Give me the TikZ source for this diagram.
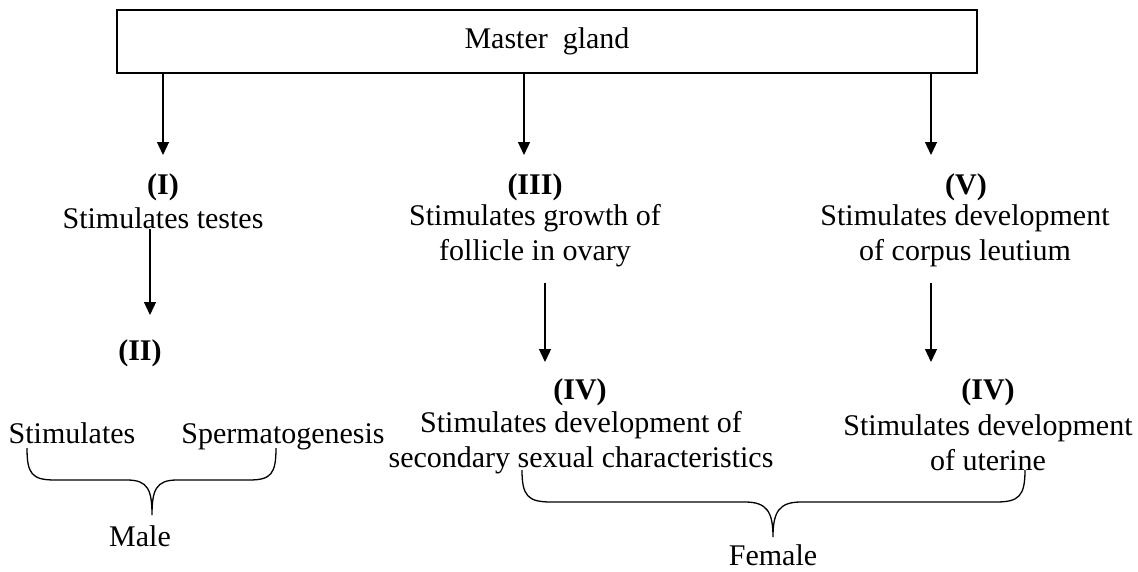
\documentclass[tikz,border=0pt]{standalone}
\usepackage{fontspec}
\setmainfont{Liberation Serif}
\usetikzlibrary{positioning}
\usetikzlibrary{arrows.meta}

\tikzset{
  txt/.style={inner sep=0pt, align=center, font=\fontsize{30}{35}\selectfont},
  arr/.style={-{Triangle[width=12pt,length=13pt]}, line width=1.3pt},
  brace/.style={line width=1.3pt},
}

\begin{document}
\begin{tikzpicture}[x=1pt,y=-1pt]
\useasboundingbox (0,0) rectangle (1138,571);

\node[draw, line width=1.3pt, minimum width=860pt, minimum height=63pt, txt] (gland) at (547,41.5) {Master\ \ gland};

\node[txt] (l1) at (163,187) {\textbf{(I)}};
\node[txt] (t1) at (163,218) {Stimulates testes};
\node[txt] (l3) at (535,187) {\textbf{(III)}};
\node[txt] (t3) at (535,235.5) {Stimulates growth of\\follicle in ovary};
\node[txt] (l5) at (966,187) {\textbf{(V)}};
\node[txt] (t5) at (965,235.5) {Stimulates development\\of corpus leutium};

\node[txt] (l2) at (140,353) {\textbf{(II)}};
\node[txt, anchor=base] (sti) at (72,443) {Stimulates};
\node[txt, anchor=base] (spe) at (283,443) {Spermatogenesis};
\node[txt] (male) at (140,536) {Male};

\node[txt] (l4) at (580,392) {\textbf{(IV)}};
\node[txt] (t4) at (581,443) {Stimulates development of\\secondary sexual characteristics};
\node[txt] (l6) at (988,392) {\textbf{(IV)}};
\node[txt] (t6) at (988,443) {Stimulates development\\of uterine};
\node[txt] (female) at (773,555) {Female};

\coordinate (a1) at (163,155);
\coordinate (a3) at (524,155);
\coordinate (a5) at (931,155);
\coordinate (a2) at (150,315);
\coordinate (a4) at (545,362);
\coordinate (a6) at (931,362);

\draw[arr] (gland.south -| a1) -- (a1);
\draw[arr] (gland.south -| a3) -- (a3);
\draw[arr] (gland.south -| a5) -- (a5);
\draw[arr] (t1.south -| a2) -- (a2);
\draw[arr, shorten <=16pt] (t3.south -| a4) -- (a4);
\draw[arr, shorten <=16pt] (t5.south -| a6) -- (a6);

\draw[brace] (27,448) .. controls (27,474) and (32,480) .. (55,480) -- (127,480)
  .. controls (148,480) and (152,490) .. (152,515)
  .. controls (152,490) and (156,480) .. (177,480) -- (249,480)
  .. controls (271,480) and (276,474) .. (276,448);
\draw[brace] (522,470) .. controls (522,496) and (528,502) .. (551,502) -- (745,502)
  .. controls (767,502) and (773,512) .. (773,537)
  .. controls (773,512) and (779,502) .. (801,502) -- (996,502)
  .. controls (1019,502) and (1025,496) .. (1025,470);

\end{tikzpicture}
\end{document}
